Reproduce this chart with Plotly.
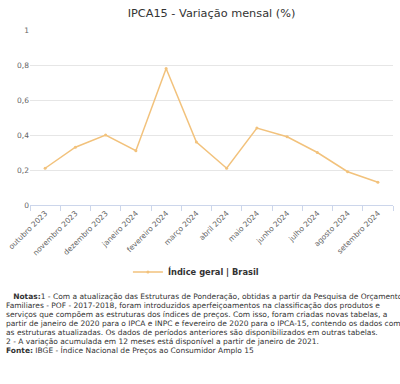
import plotly.graph_objects as go

categories = ["outubro 2023", "novembro 2023", "dezembro 2023", "janeiro 2024",
              "fevereiro 2024", "março 2024", "abril 2024", "maio 2024",
              "junho 2024", "julho 2024", "agosto 2024", "setembro 2024"]
values = [0.21, 0.33, 0.40, 0.31, 0.78, 0.36, 0.21, 0.44, 0.39, 0.30, 0.19, 0.13]
y_ticks = [0, 0.2, 0.4, 0.6, 0.8, 1]
series_name = "Índice geral | Brasil"
title = "IPCA15 - Variação mensal (%)"
notes = [
    "   <b>Notas:</b>1 - Com a atualização das Estruturas de Ponderação, obtidas a partir da Pesquisa de Orçamentos",
    "Familiares - POF - 2017-2018, foram introduzidos aperfeiçoamentos na classificação dos produtos e",
    "serviços que compõem as estruturas dos índices de preços. Com isso, foram criadas novas tabelas, a",
    "partir de janeiro de 2020 para o IPCA e INPC e fevereiro de 2020 para o IPCA-15, contendo os dados com",
    "as estruturas atualizadas. Os dados de períodos anteriores são disponibilizados em outras tabelas.",
    "2 - A variação acumulada em 12 meses está disponível a partir de janeiro de 2021.",
    "<b>Fonte:</b> IBGE - Índice Nacional de Preços ao Consumidor Amplo 15",
]

W, H = 400, 384
ml, mr, mt, mb = 26, 7, 30, 179
ph = H - mt - mb
pw = W - ml - mr
FONT = "DejaVu Sans"

fig = go.Figure()
fig.add_trace(go.Scatter(
    x=categories, y=values, mode="lines+markers", name="<b>" + series_name + "</b>",
    line=dict(color="#f2c27c", width=1.5),
    marker=dict(size=3, color="#f2c27c"),
))

def py(pix):
    return (H - mb - pix) / ph

def px(pix):
    return (pix - ml) / pw

annotations = []
y0 = 296
for i, line in enumerate(notes):
    annotations.append(dict(
        text=line, xref="paper", yref="paper",
        x=px(0), y=py(y0 + i * 9.1), xanchor="left", yanchor="middle",
        showarrow=False, align="left",
        font=dict(family=FONT, size=7.5, color="#333333"),
    ))

fig.update_layout(
    width=W, height=H,
    margin=dict(l=ml, r=mr, t=mt, b=mb),
    paper_bgcolor="white", plot_bgcolor="white",
    separators=",.",
    title=dict(text=title, x=0.5, xref="paper", xanchor="center",
               y=1 - 13 / H, yanchor="middle",
               font=dict(family=FONT, size=11.3, color="#333333")),
    font=dict(family=FONT, color="#666666"),
    xaxis=dict(
        type="category", range=[-0.5, len(categories) - 0.5],
        tickson="boundaries", ticks="outside", ticklen=5, tickcolor="#ccd6eb",
        showline=True, linecolor="#ccd6eb", linewidth=1,
        showgrid=False, tickangle=-45,
        tickfont=dict(family=FONT, size=7.5, color="#666666"),
    ),
    yaxis=dict(
        range=[0, 1], tickvals=y_ticks, showgrid=True, gridcolor="#e6e6e6",
        zeroline=False, showline=False,
        tickfont=dict(family=FONT, size=7.5, color="#666666"),
    ),
    showlegend=True,
    legend=dict(orientation="h", x=px(125), xanchor="left",
                y=py(272), yanchor="middle", itemwidth=30,
                font=dict(family=FONT, size=8.3, color="#333333")),
    annotations=annotations,
)

fig.write_html("out.html", config={"displayModeBar": False},
               post_script="document.body.style.margin='0';")
